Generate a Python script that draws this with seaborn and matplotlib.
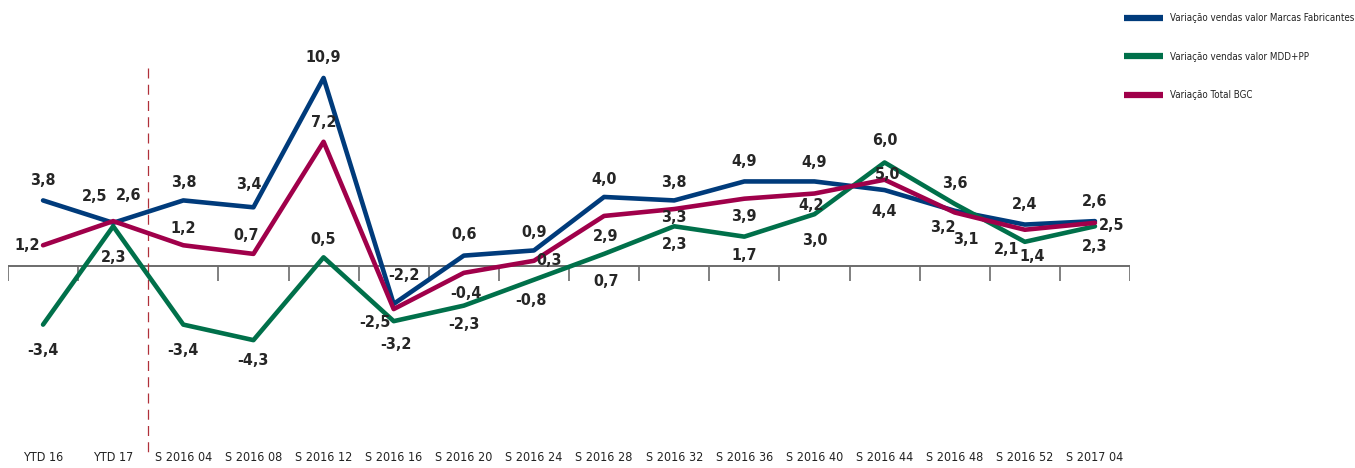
import numpy as np
import pandas as pd
import matplotlib
matplotlib.use("Agg")
import matplotlib.pyplot as plt
from matplotlib import font_manager
from matplotlib.font_manager import FontProperties
import seaborn as sns

# ---- data -------------------------------------------------------------
categories = ["YTD 16", "YTD 17", "S 2016 04", "S 2016 08", "S 2016 12", "S 2016 16",
              "S 2016 20", "S 2016 24", "S 2016 28", "S 2016 32", "S 2016 36",
              "S 2016 40", "S 2016 44", "S 2016 48", "S 2016 52", "S 2017 04"]

marcas_fabricantes = [3.8, 2.5, 3.8, 3.4, 10.9, -2.2, 0.6, 0.9, 4.0, 3.8, 4.9, 4.9, 4.4, 3.2, 2.4, 2.6]
mdd_pp = [-3.4, 2.3, -3.4, -4.3, 0.5, -3.2, -2.3, -0.8, 0.7, 2.3, 1.7, 3.0, 6.0, 3.6, 1.4, 2.3]
total_bgc = [1.2, 2.6, 1.2, 0.7, 7.2, -2.5, -0.4, 0.3, 2.9, 3.3, 3.9, 4.2, 5.0, 3.1, 2.1, 2.5]

series_names = ["Variação vendas valor Marcas Fabricantes",
                "Variação vendas valor MDD+PP",
                "Variação Total BGC"]
series_values = [marcas_fabricantes, mdd_pp, total_bgc]
colors = ["#003b7b", "#00704a", "#a0004a"]

# label offsets in pixels (dx, dy) for each point of each series
label_offsets = [
    [(0, 20), (-19, 26), (0, 18), (-5, 23), (0, 20), (10, 28), (0, 21), (0, 18),
     (0, 17), (0, 18), (0, 20), (0, 19), (0, -21), (-12, -17), (0, 20), (0, 20)],
    [(0, -26), (0, -31), (0, -26), (0, -20), (0, 18), (2, -23), (0, -19), (-3, -21),
     (2, -28), (0, -18), (0, -19), (0, -26), (0, 22), (0, 20), (7, -15), (0, -20)],
    [(-16, 0), (15, 26), (0, 17), (-7, 18), (0, 19), (-19, -13), (2, -21), (15, 0),
     (2, -21), (0, -8), (0, -18), (-3, -12), (3, 5), (11, -27), (-18, -20), (17, -3)],
]

# ---- fonts: prefer a narrow / condensed face ---------------------------
def find_face(bold):
    files = [f.fname for f in font_manager.fontManager.ttflist]
    wanted = (["LiberationSansNarrow-Bold", "DejaVuSansCondensed-Bold", "OpenSans_Condensed-Bold",
               "OpenSansCondensed-Bold", "RobotoCondensed-Bold"] if bold else
              ["LiberationSansNarrow-Regular", "DejaVuSansCondensed.", "OpenSans_Condensed-Regular",
               "OpenSansCondensed-Regular", "RobotoCondensed-Regular"])
    for key in wanted:
        for fn in files:
            if key in fn:
                return FontProperties(fname=fn), True
    return FontProperties(family=["Roboto", "DejaVu Sans"],
                          weight="bold" if bold else "normal"), False

fp_bold, narrow_bold = find_face(True)
fp_reg, narrow_reg = find_face(False)

sns.set_theme(style="white")
plt.rcParams["font.family"] = ["Roboto", "DejaVu Sans"]

x_pos = np.arange(len(categories))
frames = []
for name, vals in zip(series_names, series_values):
    frames.append(pd.DataFrame({"pos": x_pos, "valor": vals, "serie": name}))
df = pd.concat(frames, ignore_index=True)

fig = plt.figure(figsize=(13.55, 4.68), dpi=100)
ax = fig.add_axes([8 / 1355, 28 / 468, 1122 / 1355, 420 / 468])

sns.lineplot(data=df, x="pos", y="valor", hue="serie", hue_order=series_names,
             palette=dict(zip(series_names, colors)), sort=False, linewidth=3.3,
             ax=ax, legend=True)

ax.set_xlim(-0.5, len(categories) - 0.5)
ax.set_ylim(-10.09, 14.26)
for s in ax.spines.values():
    s.set_visible(False)
ax.set_yticks([])
ax.set_xlabel("")
ax.set_ylabel("")
ax.set_xticks(x_pos)
tick_fp = fp_reg.copy()
tick_fp.set_size(9 if narrow_reg else 7.5)
ax.set_xticklabels(categories, fontproperties=tick_fp, color="#222222")
ax.tick_params(axis="x", length=0, pad=8)

# zero line with separators
ax.axhline(0, color="#6b6b6b", lw=1.4, zorder=1)
bounds = np.arange(len(categories) + 1) - 0.5
ax.vlines([b for b in bounds if b != 1.5], -0.85, 0, color="#6b6b6b", lw=1.2, zorder=1)

# dashed separator between YTD and weekly periods
ax.plot([1.5, 1.5], [11.5, -11.0], color="#b0303a", lw=0.9, ls=(0, (8, 5)),
        clip_on=False, zorder=1)

# value labels
lab_fp = fp_bold.copy()
lab_fp.set_size(11.5 if narrow_bold else 10)
for vals, offs in zip(series_values, label_offsets):
    for xi, v, (dx, dy) in zip(x_pos, vals, offs):
        ax.annotate(f"{v:.1f}".replace(".", ","), (xi, v), xytext=(dx, dy),
                    textcoords="offset pixels", ha="center", va="center",
                    fontproperties=lab_fp, color="#262626", zorder=5)

leg_fp = fp_reg.copy()
leg_fp.set_size(7 if narrow_reg else 6)
leg = ax.legend(loc="upper left", bbox_to_anchor=(1124 / 1355, 1 - 13 / 468),
                bbox_transform=fig.transFigure, frameon=False, prop=leg_fp,
                borderaxespad=0, borderpad=0,
                handlelength=4.0, handletextpad=0.7, labelspacing=2.95)
for h in leg.get_lines():
    h.set_linewidth(4.5)
    h.set_solid_capstyle("butt")
for t in leg.get_texts():
    t.set_color("#222222")

fig.savefig("out.png", dpi=100)
